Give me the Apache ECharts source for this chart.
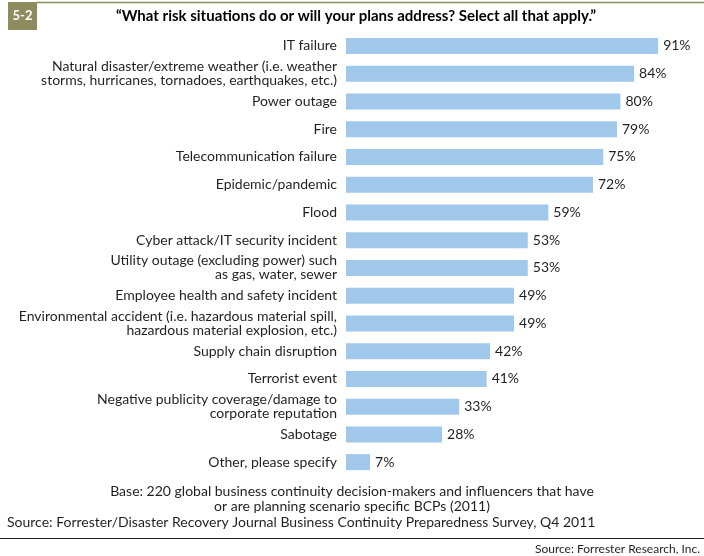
<!DOCTYPE html>
<html>
<head>
<meta charset="utf-8">
<script src="https://cdn.jsdelivr.net/npm/echarts@6/dist/echarts.min.js"></script>
<style>
  html, body { margin: 0; padding: 0; background: #fff; }
  #chart { width: 704px; height: 556px; }
</style>
</head>
<body>
<div id="chart"></div>
<script>
const categories = [
    'IT failure',
    'Natural disaster/extreme weather (i.e. weather\nstorms, hurricanes, tornadoes, earthquakes, etc.)',
    'Power outage',
    'Fire',
    'Telecommunication failure',
    'Epidemic/pandemic',
    'Flood',
    'Cyber attack/IT security incident',
    'Utility outage (excluding power) such\nas gas, water, sewer',
    'Employee health and safety incident',
    'Environmental accident (i.e. hazardous material spill,\nhazardous material explosion, etc.)',
    'Supply chain disruption',
    'Terrorist event',
    'Negative publicity coverage/damage to\ncorporate reputation',
    'Sabotage',
    'Other, please specify'
];
const percents = [91, 84, 80, 79, 75, 72, 59, 53, 53, 49, 49, 42, 41, 33, 28, 7];

const titleText = '\u201cWhat risk situations do or will your plans address? Select all that apply.\u201d';
const baseText = 'Base: 220 global business continuity decision-makers and influencers that have\nor are planning scenario specific BCPs (2011)';
const sourceText = 'Source: Forrester/Disaster Recovery Journal Business Continuity Preparedness Survey, Q4 2011';
const creditText = 'Source: Forrester Research, Inc.';

const chart = echarts.init(document.getElementById('chart'));
const font = 'Lato, "Open Sans", sans-serif';

const option = {
    animation: false,
    textStyle: { fontFamily: font },
    grid: { left: 346, right: 15, top: 32, bottom: 80 },
    xAxis: {
        type: 'value',
        min: 0,
        max: 100,
        show: false
    },
    yAxis: {
        type: 'category',
        data: categories,
        inverse: true,
        axisLine: { show: false },
        axisTick: { show: false },
        axisLabel: {
            margin: 9,
            color: '#231f20',
            fontSize: 14,
            lineHeight: 14,
            fontFamily: font
        }
    },
    series: [{
        type: 'bar',
        data: percents,
        barWidth: 16,
        itemStyle: { color: '#9fc8ea' },
        label: {
            show: true,
            position: 'right',
            distance: 5,
            formatter: '{c}%',
            color: '#231f20',
            fontSize: 14,
            fontFamily: font
        }
    }],
    graphic: [
        { type: 'rect', shape: { x: 8, y: 2, width: 29, height: 28 }, style: { fill: '#8e8b5e' } },
        { type: 'text', x: 22.5, y: 16, style: { text: '5-2', fill: '#fff', font: 'bold 13px ' + font, textAlign: 'center', textVerticalAlign: 'middle' } },
        { type: 'line', shape: { x1: 37, y1: 2.5, x2: 704, y2: 2.5 }, style: { stroke: '#8e8b5e', lineWidth: 1.5 } },
        { type: 'text', x: 356, y: 16, style: { text: titleText, fill: '#000', font: 'bold 15px ' + font, textAlign: 'center', textVerticalAlign: 'middle' } },
        { type: 'text', x: 352, y: 499, style: { text: baseText, fill: '#231f20', font: '14px ' + font, textAlign: 'center', textVerticalAlign: 'middle', lineHeight: 15 } },
        { type: 'text', x: 7, y: 522, style: { text: sourceText, fill: '#231f20', font: '14px ' + font, textAlign: 'left', textVerticalAlign: 'middle' } },
        { type: 'line', shape: { x1: 0, y1: 538.5, x2: 704, y2: 538.5 }, style: { stroke: '#231f20', lineWidth: 1 } },
        { type: 'text', x: 700, y: 549, style: { text: creditText, fill: '#231f20', font: '12px ' + font, textAlign: 'right', textVerticalAlign: 'middle' } }
    ]
};
chart.setOption(option);
</script>
</body>
</html>
